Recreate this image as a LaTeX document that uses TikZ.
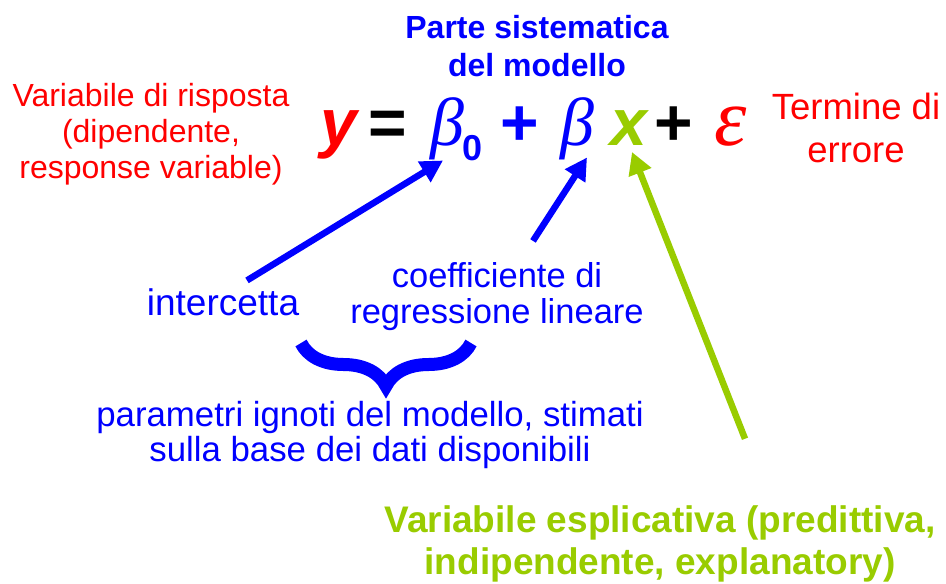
\documentclass[tikz,border=0pt]{standalone}
\usepackage{fontspec}
\setmainfont{Liberation Sans}
\newfontfamily\grk{Liberation Serif}
\usetikzlibrary{arrows.meta,decorations.pathreplacing,calc}
\definecolor{myblue}{RGB}{0,0,255}
\definecolor{myred}{RGB}{255,0,0}
\definecolor{mygreen}{RGB}{153,204,0}
\begin{document}
\begin{tikzpicture}[x=1pt,y=-1pt,
  every node/.style={inner sep=0pt,outer sep=0pt},
  redtxt/.style={text=myred,align=center,font=\fontsize{32}{36}\selectfont},
  bluetxt/.style={text=myblue,align=center,font=\fontsize{34.5}{36}\selectfont},
  eqfont/.style={font=\fontsize{66}{66}\selectfont\bfseries},
  grkfont/.style={font=\fontsize{68}{68}\selectfont\grk\itshape},
  arr/.style={line width=6.5pt,-{Triangle[length=22pt,width=23pt]}},
  bluearr/.style={arr,draw=myblue,fill=myblue},
  greenarr/.style={arr,draw=mygreen,fill=mygreen}]
\useasboundingbox[fill=white] (0,0) rectangle (946,584);

% title
\node[text=myblue,align=center,font=\fontsize{32}{38}\selectfont\bfseries] (parte) at (537,46) {Parte sistematica\\del modello};

% left and right labels
\node[redtxt] (risposta) at (151,134) {Variabile di risposta\\(dipendente,\\response variable)};
\node[text=myred,align=center,font=\fontsize{36.5}{43}\selectfont] (errore) at (856,128) {Termine di\\errore};

% equation
\node[eqfont,text=myred,anchor=base] (y) at (339,145) {\itshape y};
\node[eqfont,text=black,anchor=base] (eq) at (388,145) {=};
\node[grkfont,text=myblue,anchor=base] (b0) at (447,145) {β};
\node[text=myblue,anchor=base,font=\fontsize{36}{36}\selectfont\bfseries] (zero) at (473,160) {0};
\node[eqfont,text=myblue,anchor=base] (p1) at (520,145) {+};
\node[grkfont,text=myblue,anchor=base] (b1) at (577,145) {β};
\node[eqfont,text=mygreen,anchor=base] (x) at (629,145) {\itshape x};
\node[eqfont,text=black,anchor=base] (p2) at (674,145) {+};
\node[grkfont,text=myred,anchor=base,font=\fontsize{82}{82}\selectfont\grk\itshape] (eps) at (731,145) {ε};

% lower labels
\node[bluetxt,font=\fontsize{37}{37}\selectfont] (icpt) at (223,302) {intercetta};
\node[bluetxt] (coef) at (497,297) {coefficiente di\\regressione lineare};
\node[bluetxt,font=\fontsize{34.8}{35}\selectfont] (param) at (370,435) {parametri ignoti del modello, stimati\\sulla base dei dati disponibili};
\node[text=mygreen,align=center,font=\fontsize{37}{42}\selectfont\bfseries] (expl) at (660,544) {Variabile esplicativa (predittiva,\\indipendente, explanatory)};

% brace
\coordinate (brR) at (471,343);
\coordinate (brL) at (301,343);
\draw[myblue,line width=13pt,decorate,decoration={brace,amplitude=43pt}] (brR) -- (brL);

% arrows
\draw[bluearr] ($(icpt.north)+(24,-8)$) -- ($(b0.south)+(-4,1)$);
\draw[bluearr] ($(coef.north)+(36,-22)$) -- ($(b1.south)+(10,-2)$);
\draw[greenarr] ($(expl.north)+(85,-67)$) -- ($(x.south)+(3,7)$);
\end{tikzpicture}
\end{document}
